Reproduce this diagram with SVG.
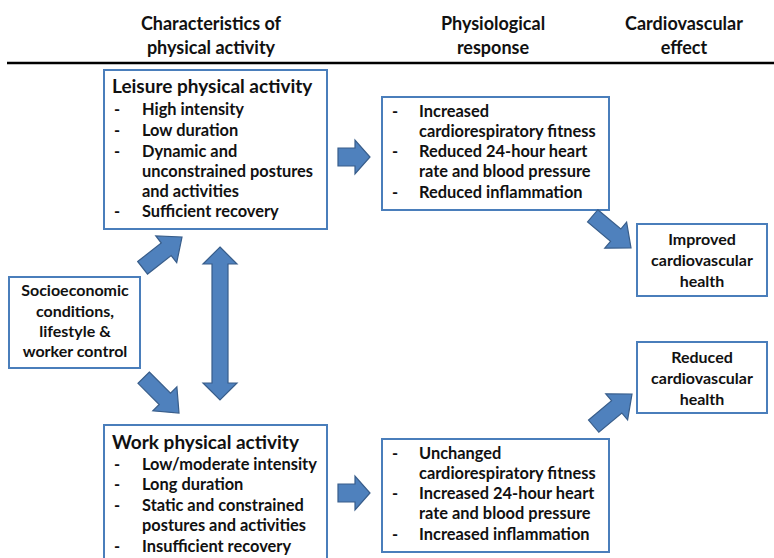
<svg xmlns="http://www.w3.org/2000/svg" width="774" height="558" viewBox="0 0 774 558">
<defs>
<style>
text{font-family:Lato,"Open Sans","Liberation Sans",sans-serif;font-weight:bold;fill:#111;}
.h{font-size:18px;text-anchor:middle;}
.t{font-size:19px;}
.b{font-size:16.4px;}
.c{font-size:16px;text-anchor:middle;}
.box{fill:#fff;stroke:#4a7ebb;stroke-width:2;}
.arr{fill:#4f81bd;stroke:#385d8a;stroke-width:1.2;}
</style>
<path id="a50" d="M-50,-8 L-20,-8 L-20,-17 L0,0 L-20,17 L-20,8 L-50,8 Z"/>
<path id="a32" d="M-32,-9 L-15,-9 L-15,-17 L0,0 L-15,17 L-15,9 L-32,9 Z"/>
</defs>
<rect width="774" height="558" fill="#fff"/>
<g id="header">
<text class="h" x="211" y="30">Characteristics of</text>
<text class="h" x="211" y="54">physical activity</text>
<text class="h" x="493" y="30">Physiological</text>
<text class="h" x="493" y="54">response</text>
<text class="h" x="684" y="30">Cardiovascular</text>
<text class="h" x="684" y="54">effect</text>
<line x1="7" y1="63" x2="774" y2="63" stroke="#000" stroke-width="2.5"/>
</g>
<g id="leisure">
<rect class="box" x="104" y="70" width="223" height="159"/>
<text class="t" x="112" y="93">Leisure physical activity</text>
<text class="b"><tspan x="114" y="115">-</tspan><tspan x="142" y="115">High intensity</tspan>
<tspan x="114" y="136">-</tspan><tspan x="142" y="136">Low duration</tspan>
<tspan x="114" y="157">-</tspan><tspan x="142" y="157">Dynamic and</tspan>
<tspan x="142" y="177">unconstrained postures</tspan>
<tspan x="142" y="197">and activities</tspan>
<tspan x="114" y="217">-</tspan><tspan x="142" y="217">Sufficient recovery</tspan></text>
</g>
<g id="phys-top">
<rect class="box" x="382" y="97" width="227" height="113"/>
<text class="b"><tspan x="392" y="117">-</tspan><tspan x="419" y="117">Increased</tspan>
<tspan x="419" y="137">cardiorespiratory fitness</tspan>
<tspan x="392" y="157">-</tspan><tspan x="419" y="157">Reduced 24-hour heart</tspan>
<tspan x="419" y="177">rate and blood pressure</tspan>
<tspan x="392" y="198">-</tspan><tspan x="419" y="198">Reduced inflammation</tspan></text>
</g>
<g id="improved">
<rect class="box" x="637" y="224" width="130" height="72"/>
<text class="c" x="702" y="245">Improved</text>
<text class="c" x="702" y="266">cardiovascular</text>
<text class="c" x="702" y="287">health</text>
</g>
<g id="reduced">
<rect class="box" x="637" y="342" width="130" height="71"/>
<text class="c" x="702" y="363">Reduced</text>
<text class="c" x="702" y="384">cardiovascular</text>
<text class="c" x="702" y="405">health</text>
</g>
<g id="socio">
<rect class="box" x="9" y="277" width="131" height="91"/>
<text class="c" x="75" y="296">Socioeconomic</text>
<text class="c" x="75" y="317">conditions,</text>
<text class="c" x="75" y="337">lifestyle &amp;</text>
<text class="c" x="75" y="357">worker control</text>
</g>
<g id="work">
<rect class="box" x="104" y="425" width="223" height="140"/>
<text class="t" x="112" y="449">Work physical activity</text>
<text class="b"><tspan x="114" y="470">-</tspan><tspan x="142" y="470">Low/moderate intensity</tspan>
<tspan x="114" y="490">-</tspan><tspan x="142" y="490">Long duration</tspan>
<tspan x="114" y="511">-</tspan><tspan x="142" y="511">Static and constrained</tspan>
<tspan x="142" y="531">postures and activities</tspan>
<tspan x="114" y="552">-</tspan><tspan x="142" y="552">Insufficient recovery</tspan></text>
</g>
<g id="phys-bottom">
<rect class="box" x="382" y="439" width="227" height="113"/>
<text class="b"><tspan x="392" y="459">-</tspan><tspan x="419" y="459">Unchanged</tspan>
<tspan x="419" y="479">cardiorespiratory fitness</tspan>
<tspan x="392" y="499">-</tspan><tspan x="419" y="499">Increased 24-hour heart</tspan>
<tspan x="419" y="519">rate and blood pressure</tspan>
<tspan x="392" y="540">-</tspan><tspan x="419" y="540">Increased inflammation</tspan></text>
</g>
<g id="connectors">
<use href="#a32" class="arr" transform="translate(370,157)"/>
<use href="#a32" class="arr" transform="translate(370,493)"/>
<use href="#a50" class="arr" transform="translate(631,248) rotate(40)"/>
<use href="#a50" class="arr" transform="translate(632,394) rotate(-40)"/>
<use href="#a50" class="arr" transform="translate(182,237) rotate(-38)"/>
<use href="#a50" class="arr" transform="translate(179,413) rotate(45)"/>
<path class="arr" d="M220,247 L237,264 L228,264 L228,383 L237,383 L220,400 L203,383 L212,383 L212,264 L203,264 Z"/>
</g>
</svg>
